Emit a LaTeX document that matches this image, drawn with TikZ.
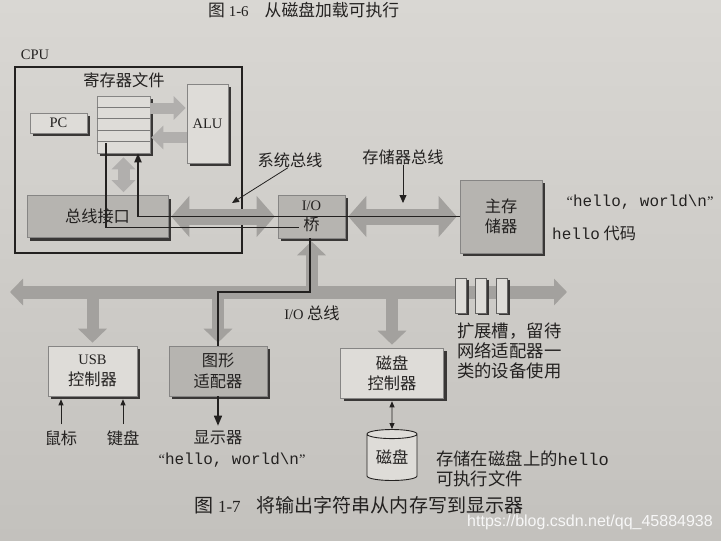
\documentclass[tikz,border=0pt]{standalone}
\usepackage{fontspec}
\setmainfont{Liberation Serif}
\setsansfont{Liberation Sans}
\setmonofont[Scale=1.1]{Liberation Mono}
\newfontfamily\cjk[Scale=1.12]{Noto Sans CJK SC}
\usepackage{tikz}
\usetikzlibrary{positioning,shapes.geometric,arrows.meta,calc}
\definecolor{ink}      {HTML}{232120}
\definecolor{papertop} {HTML}{D9D7D3}
\definecolor{paperbot} {HTML}{C3C1BD}
\definecolor{lightfill}{HTML}{DEDCD8}
\definecolor{darkfill} {HTML}{B6B4B0}
\definecolor{busgray}  {HTML}{A3A19E}
\colorlet{shadowink}{ink!90}
\newcommand{\zh}[1]{{\cjk #1}}
\tikzset{
  every node/.style={text=ink, inner sep=0pt},
  % --- nodes
  box/.style   = {draw=ink!55, line width=0.6pt, fill=lightfill, align=center,
                  font=\fontsize{14.5}{20.5}\selectfont,
                  preaction={fill=shadowink, draw=none,
                             transform canvas={xshift=3pt, yshift=-3pt}}},
  dbox/.style  = {box, fill=darkfill},
  lbl/.style   = {font=\fontsize{14.5}{20}\selectfont, align=center},
  note/.style  = {font=\fontsize{15.5}{20}\selectfont, align=left},
  % --- tips
  bighead/.tip = {Triangle[length=18pt, width=40pt]},
  iohead/.tip  = {Triangle[length=13pt, width=26pt]},
  brhead/.tip  = {Triangle[length=14pt, width=28pt]},
  inhead/.tip  = {Triangle[length=12pt, width=23pt]},
  dphead/.tip  = {Triangle[length=9pt, width=7pt]},
  smhead/.tip  = {Triangle[length=6pt, width=5pt]},
  % --- edges
  sysbus/.style = {draw=busgray, line width=16pt, bighead-bighead,
                   shorten <=3pt, shorten >=3pt},
  iobus/.style  = {draw=busgray, line width=13pt, iohead-iohead},
  branch/.style = {draw=busgray, line width=12pt, -brhead, shorten >=3pt},
  inner/.style  = {draw=busgray!85!white, line width=11pt, -inhead, shorten >=1pt},
  inner2/.style = {draw=busgray!85!white, line width=12pt, inhead-inhead,
                   shorten <=4pt, shorten >=3pt},
  datapath/.style = {draw=ink, line width=1.8pt},
  thin/.style   = {draw=ink, line width=0.8pt, -smhead},
}

\begin{document}
\begin{tikzpicture}[x=1pt, y=-1pt,
  slot/.style={draw=ink!70, line width=0.6pt, fill=lightfill,
               minimum width=11, minimum height=35,
               preaction={fill=shadowink, draw=none,
                          transform canvas={xshift=2pt, yshift=-2pt}}},
  disk/.style={cylinder, shape border rotate=90, aspect=0.28, draw=ink, line width=0.9pt,
               fill=lightfill, minimum width=50, minimum height=51,
               font=\fontsize{14.5}{18}\selectfont},
]
  \useasboundingbox (0,0) rectangle (721,541);
  \shade[top color=papertop, bottom color=paperbot] (0,0) rectangle (721,541);

  % cpu and its parts
  \node[draw=ink, line width=1.2pt, minimum width=227, minimum height=186] (cpu) at (128.5,160) {};
  \node[box, minimum width=53, minimum height=57] (regs) at (123.5,124.5) {};
  \foreach \i in {1,...,4}
    \draw[ink!60, line width=0.6pt] ($(regs.north west)!\i/5!(regs.south west)$)
      -- ($(regs.north east)!\i/5!(regs.south east)$);
  \node[box, minimum width=57, minimum height=20] (pc) at (58.5,123) {PC};
  \node[box, minimum width=41, minimum height=79] (alu) at (207.5,123.5) {ALU};
  \node[dbox, minimum width=141, minimum height=42] (bif) at (97.5,216.5) {\zh{总线接口}};

  % bridge, memory, controllers
  \node[dbox, minimum width=67, minimum height=43] (bridge) at (311.5,216.5) {I/O\\\zh{桥}};
  \node[dbox, minimum width=82, minimum height=73] (mem) at (501,216.5) {\zh{主存}\\\zh{储器}};
  \node[box, minimum width=89, minimum height=50] (usb) at (92.5,371) {USB\\\zh{控制器}};
  \node[dbox, minimum width=98, minimum height=50] (gfx) at (218,371) {\zh{图形}\\\zh{适配器}};
  \node[box, minimum width=103, minimum height=50] (dctl) at (392,373) {\zh{磁盘}\\\zh{控制器}};
  \node[disk] (disk) at (392,457.5) {\zh{磁盘}};

  % buses
  \coordinate (busL) at (10,292);
  \coordinate (busR) at (567,292);
  \draw[sysbus] (bif) -- (bridge);
  \draw[sysbus] (bridge) -- (mem);
  \draw[iobus] (busL) -- (busR);
  \draw[branch] (usb.north |- busL) -- (usb.north);
  \draw[branch] (gfx.north |- busL) -- (gfx.north);
  \draw[branch] (dctl.north |- busL) -- (dctl.north);
  \draw[branch] (bridge.south |- busL) -- (bridge.south);
  \draw[inner] ($(regs.east)+(0,-16.5)$) -- ($(alu.west)+(0,-15.5)$);
  \draw[inner] ($(alu.west)+(0,14)$) -- ($(regs.east)+(0,13)$);
  \draw[inner2] (regs.south) -- (bif.north -| regs.south);
  \foreach \i/\x in {1/461,2/481,3/502}
    \node[slot] (slot\i) at (\x,295.5) {};

  % path of the string
  \draw[datapath, -dphead] (mem.west) -| ($(regs.south)+(14.5,0)$);
  \draw[datapath] ($(regs.south)+(-17.5,-10)$) |- ($(bridge.center)+(-13,11)$);
  \draw[datapath] ($(bridge.south)+(-1.5,0)$) |- (gfx.north |- busL) -- (gfx.north);

  % labels
  \node[lbl] (cpulbl) at (35,55) {CPU};
  \node[lbl] (rflbl) at (124,80) {\zh{寄存器文件}};
  \node[lbl] (sbl) at (290,160) {\zh{系统总线}};
  \node[lbl] (mbl) at (403,157) {\zh{存储器总线}};
  \node[lbl] (ioblbl) at (312,313) {I/O \zh{总线}};
  \node[lbl] (str1) at (640,202) {“\texttt{hello, world\textbackslash n}”};
  \node[lbl, anchor=west] (hcode) at (552,233) {\texttt{hello} \zh{代码}};
  \node[lbl] (mouse) at (61,438) {\zh{鼠标}};
  \node[lbl] (kbd) at (123,438) {\zh{键盘}};
  \node[lbl] (disp) at (218,438) {\zh{显示器}};
  \node[lbl] (str2) at (232,460) {“\texttt{hello, world\textbackslash n}”};
  \node[note, anchor=north west] (slotnote) at (457,323)
    {\zh{扩展槽，留待}\\\zh{网络适配器一}\\\zh{类的设备使用}};
  \node[note, anchor=west] (disknote) at (436,468.5)
    {\zh{存储在磁盘上的}\texttt{hello}\\\zh{可执行文件}};
  \node[font=\fontsize{15}{18}\selectfont, anchor=base west] (prevcap) at (208,16)
    {\zh{图} 1-6\hspace{16pt}\zh{从磁盘加载可执行}};
  \node[font=\fontsize{17}{20}\selectfont] (cap) at (359,505)
    {\zh{图} 1-7\hspace{16pt}\zh{将输出字符串从内存写到显示器}};
  \node[font=\sffamily\fontsize{16}{18}\selectfont, text=white!94!gray] (wm) at (590,522)
    {https://blog.csdn.net/qq\_45884938};

  % small arrows
  \coordinate (mbtip) at (403,203);
  \coordinate (sbtip) at (232,203);
  \draw[thin, -{Triangle[length=8pt, width=7pt]}] (mbl.south) -- (mbtip);
  \draw[thin, -{Triangle[length=7pt, width=6pt]}] ($(sbl.south)+(-2,0)$) -- (sbtip);
  \draw[thin, shorten <=6pt, shorten >=3pt] (mouse.north) -- (mouse.north |- usb.south);
  \draw[thin, shorten <=6pt, shorten >=3pt] (kbd.north) -- (kbd.north |- usb.south);
  \draw[thin, smhead-smhead, shorten <=3pt] (dctl) -- (disk);
  \draw[datapath, line width=1.5pt, -{Triangle[length=10pt, width=8pt]}, shorten >=5pt]
    (gfx.south) -- (disp.north);
\end{tikzpicture}
\end{document}
